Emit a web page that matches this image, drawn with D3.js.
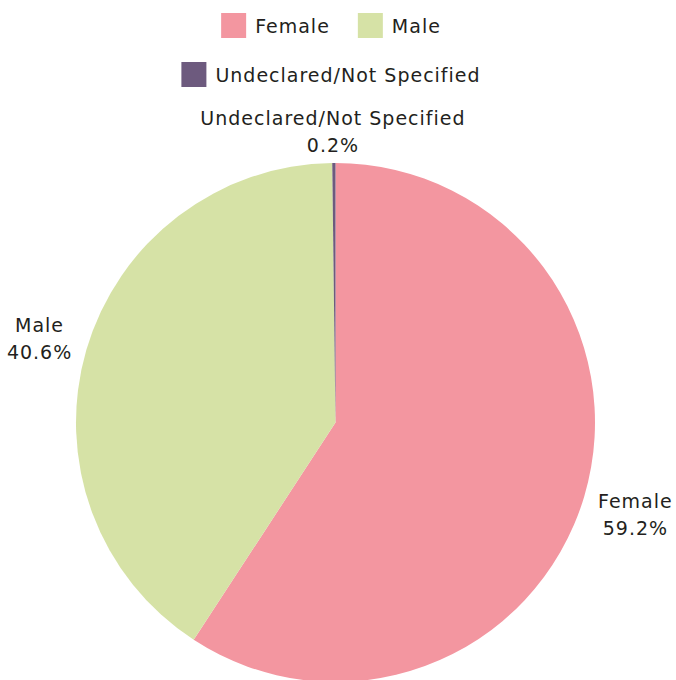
<!DOCTYPE html>
<html><head><meta charset="utf-8">
<script src="https://cdn.jsdelivr.net/npm/d3@7"></script>
<style>body{margin:0;background:#fff}svg{display:block}text{font-family:"DejaVu Sans",sans-serif;fill:#231f20}</style>
</head><body>
<script>
const categories = ["Female", "Male", "Undeclared/Not Specified"];
const values = [59.2, 40.6, 0.2];
const colors = ["#f396a0", "#d6e2a6", "#6d5a7e"];
const valueLabels = ["59.2%", "40.6%", "0.2%"];

const W = 676, H = 680;
const svg = d3.select("body").append("svg").attr("width", W).attr("height", H);
const cx = 335.5, cy = 422.5, r = 259.5;
const fs = 19;
const ls = 1.0;

const data = categories.map((c, i) => ({cat: c, value: values[i], color: colors[i], label: valueLabels[i]}));
const pie = d3.pie().value(d => d.value).sort(null);
const arc = d3.arc().innerRadius(0).outerRadius(r);
const arcs = pie(data);

const g = svg.append("g").attr("transform", `translate(${cx},${cy})`);
g.selectAll("path").data(arcs).join("path").attr("d", arc).attr("fill", d => d.data.color);

// labels
const d0 = 16, lh = 27;
arcs.forEach(a => {
  const m = (a.startAngle + a.endAngle) / 2;
  const s = Math.sin(m), c = -Math.cos(m);
  const px = (r + d0) * s, py = (r + d0) * c;
  const t = g.append("text").attr("text-anchor", "middle").style("font-size", fs + "px").style("letter-spacing", ls + "px");
  t.append("tspan").attr("x", 0).attr("dy", 0).text(a.data.cat);
  t.append("tspan").attr("x", 0).attr("dy", lh).text(a.data.label);
  const w = t.node().getBBox().width, h = lh * 2;
  const bx = px + (w / 2) * s;
  const by = py + 0.7 * (h / 2) * Math.sign(c) * Math.sqrt(Math.abs(c));
  t.attr("transform", `translate(${bx},${by - lh / 2 + fs * 0.37 + 3})`);
});

// legend
const legendRows = [[0, 1], [2]];
const sq = 25, gap = 9, itemGap = 28;
legendRows.forEach((row, ri) => {
  const y = 13 + ri * 49;
  const lg = svg.append("g");
  let x = 0;
  row.forEach((i, k) => {
    const it = lg.append("g").attr("transform", `translate(${x},0)`);
    it.append("rect").attr("width", sq).attr("height", sq).attr("fill", colors[i]);
    const tt = it.append("text").attr("x", sq + gap).attr("y", sq / 2 + fs * 0.37)
      .style("font-size", fs + "px").style("letter-spacing", ls + "px").text(categories[i]);
    x += sq + gap + tt.node().getComputedTextLength() + itemGap;
  });
  const total = x - itemGap;
  lg.attr("transform", `translate(${(W - total) / 2 - 7},${y})`);
});
</script>
</body></html>
